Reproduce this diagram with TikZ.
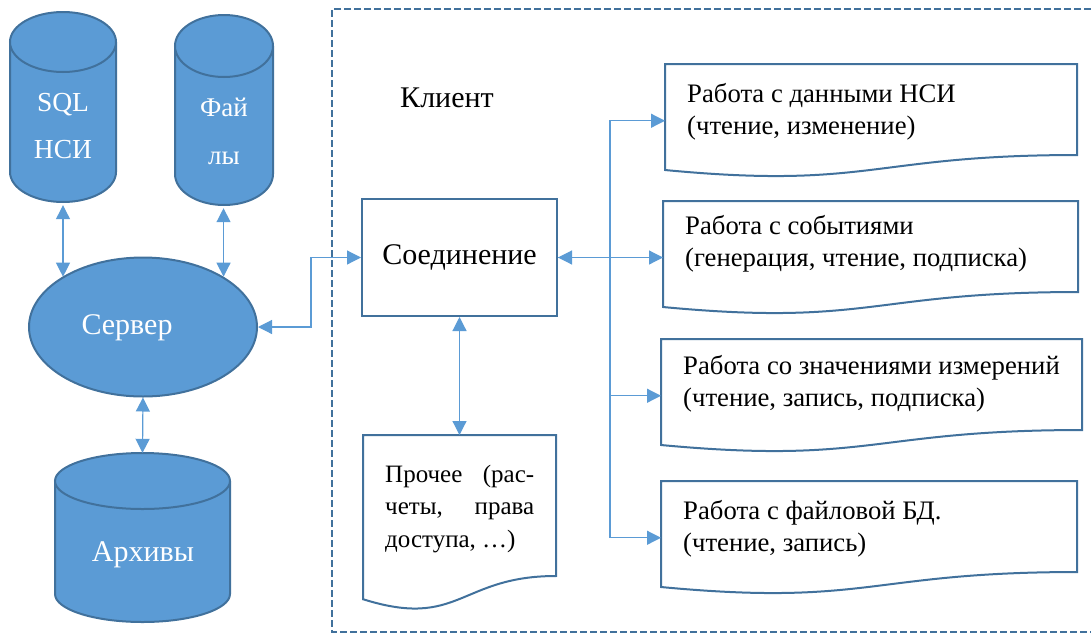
\documentclass[tikz,border=0pt]{standalone}
\usepackage{fontspec}
\setmainfont{Liberation Serif}
\usetikzlibrary{arrows.meta,shapes.geometric,calc}
\definecolor{fillblue}{HTML}{5B9BD5}
\definecolor{edgeblue}{HTML}{41719C}
\definecolor{linkblue}{HTML}{5B9BD5}

% cylinder: cx, yt, yb, rx, ry
\newcommand\cylshape[5]{%
  \fill[fillblue] ({#1-#4},#2) rectangle ({#1+#4},#3);
  \fill[fillblue] (#1,#3) ellipse[x radius=#4,y radius=#5];
  \draw[cyledge] ({#1-#4},#2) -- ({#1-#4},#3) arc[start angle=180,end angle=0,x radius=#4,y radius=#5] -- ({#1+#4},#2);
  \draw[cyledge,fill=fillblue] (#1,#2) ellipse[x radius=#4,y radius=#5];
}
% document shape: name, x0, y0, w, h
\newcommand\docshape[5]{%
  \draw[docedge] (#2,#3) -- ({#2+#4},#3) -- ({#2+#4},{#3+0.802*#5})
    .. controls ({#2+0.5*#4},{#3+0.802*#5}) and ({#2+0.5*#4},{#3+1.107*#5}) .. (#2,{#3+0.934*#5}) -- cycle;
  \node[inner sep=0pt, outer sep=0pt, minimum width=#4pt, minimum height=#5pt, anchor=north west] (#1) at (#2,#3) {};
}

\begin{document}
\begin{tikzpicture}[x=1pt,y=-1pt,
  cyledge/.style={draw=edgeblue, line width=2pt},
  docedge/.style={draw=edgeblue, line width=2pt, fill=white},
  link/.style={draw=linkblue, line width=1.2pt, >={Triangle[length=14pt,width=14pt]}},
  whitetext/.style={text=white, align=center, inner sep=0pt},
  bigfont/.style={font=\fontsize{30}{36}\selectfont},
  doctext/.style={align=left, inner sep=0pt, anchor=west, font=\fontsize{26.7}{32}\selectfont},
  ]
\useasboundingbox (0,0) rectangle (1091,635);

% client frame (dashed)
\draw[edgeblue, line width=1.8pt, dash pattern=on 7pt off 3pt] (1091,9) -- (332,9) -- (332,632) -- (1091,632);

% SQL cylinder
\cylshape{63}{42}{172}{53}{30}
\node[inner sep=0pt, minimum width=106pt, minimum height=190pt] (sql) at (63,107) {};
\node[whitetext, font=\fontsize{27.5}{47}\selectfont] (sqltext) at (63,126.5) {SQL\\НСИ};

% Files cylinder
\cylshape{224}{46}{174}{49}{31}
\node[inner sep=0pt, minimum width=98pt, minimum height=190pt] (files) at (224,110) {};
\node[whitetext, font=\fontsize{27}{48}\selectfont] (filestext) at (224,131) {Фай\\лы};

% Server
\node[ellipse, draw=edgeblue, line width=2pt, fill=fillblue, minimum width=228pt, minimum height=139pt, inner sep=0pt] (srv) at (143,327) {};
\node[whitetext, bigfont] (srvtext) at (127,328) {Сервер};

% Archives cylinder
\cylshape{142.5}{481}{594}{87.5}{28}
\node[inner sep=0pt, minimum width=175pt, minimum height=169pt] (arch) at (142.5,537.5) {};
\node[whitetext, bigfont] (archtext) at (143,555) {Архивы};

% Client label
\node[bigfont, inner sep=0pt] (client) at (447,98) {Клиент};

% Connection box
\node[draw=edgeblue, line width=2pt, minimum width=195pt, minimum height=117pt, inner sep=0pt, bigfont] (conn) at (459.5,257.5) {Соединение};

% documents
\docshape{doc1}{665}{64}{412}{113.5}
\node[doctext] (doc1text) at (687,112) {Работа с данными НСИ\\(чтение, изменение)};
\docshape{doc2}{663}{201}{415}{113.5}
\node[doctext] (doc2text) at (685,244) {Работа с событиями\\(генерация, чтение, подписка)};
\docshape{doc3}{661}{339}{421}{113.5}
\node[doctext] (doc3text) at (683,383.5) {Работа со значениями измерений\\(чтение, запись, подписка)};
\docshape{doc4}{661}{481}{416}{113.5}
\node[doctext] (doc4text) at (683,529) {Работа с файловой БД.\\(чтение, запись)};
\docshape{other}{363}{435}{193}{175.8}
\node[doctext, font=\fontsize{25}{32.5}\selectfont] (othertext) at (385,509) {\makebox[149pt][s]{Прочее (рас-}\\\makebox[149pt][s]{четы, права}\\доступа, …)};

% connectors
\draw[link,<->,shorten <=3pt] (sql.south) -- (sql.south |- srv.148);
\draw[link,<->,shorten <=3pt] (srv.32 |- files.south) -- (srv.32);
\draw[link,<->] (srv.south) -- (arch.north);
\draw[link,<->] (srv.east) -- ++(53,0) |- (conn.west);
\draw[link,<->] (conn.east) -- (conn.east -| doc2.west);
\draw[link,->] (conn.east) -- ++(52,0) |- (doc1.west);
\draw[link,->] (conn.east) -- ++(52,0) |- (doc3.west);
\draw[link,->] (conn.east) -- ++(52,0) |- (doc4.west);
\draw[link,<->] (conn.south) -- (other.north);
\end{tikzpicture}
\end{document}
